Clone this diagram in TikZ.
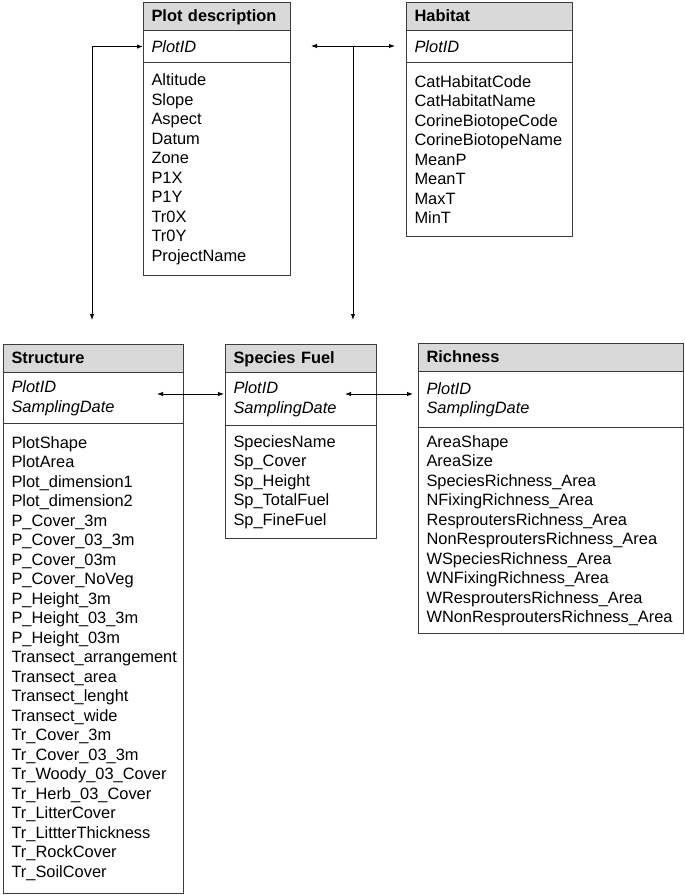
\documentclass[tikz,border=0pt]{standalone}
\usepackage{fontspec}
\setmainfont{Liberation Sans}
\usetikzlibrary{arrows.meta}
\definecolor{hdrgray}{HTML}{D9D9D9}
\definecolor{boxgray}{HTML}{3C3C3C}
\begin{document}
\begin{tikzpicture}[x=1pt,y=-1pt,
  box/.style={draw=boxgray, line width=1.1pt, rectangle, anchor=north west,
    inner xsep=8pt, inner ysep=0pt, align=left,
    font=\fontsize{16.4}{19.5}\selectfont},
  hdr/.style={box, fill=hdrgray, text height=12pt, text depth=3pt,
    font=\fontsize{16.4}{19.5}\selectfont\bfseries},
  keyrow/.style={box, font=\fontsize{16.4}{19.5}\selectfont\itshape},
  link/.style={line width=0.9pt, draw=black},
  arr/.style={-{Latex[length=6pt,width=4.5pt]}},
  darr/.style={{Latex[length=6pt,width=4.5pt]}-{Latex[length=6pt,width=4.5pt]}}
]
\useasboundingbox (0,0) rectangle (685,895);

% Plot description
\node[hdr, text width=131pt, minimum height=28pt] (pdh) at (143,2) {Plot description};
\node[keyrow, text width=131pt, minimum height=32pt] (pdk) at (143,30) {PlotID};
\node[box, text width=131pt, minimum height=213pt] (pdf) at (143,62)
  {Altitude\\Slope\\Aspect\\Datum\\Zone\\P1X\\P1Y\\Tr0X\\Tr0Y\\ProjectName};

% Habitat
\node[hdr, text width=150pt, minimum height=28pt] (habh) at (406,2) {Habitat};
\node[keyrow, text width=150pt, minimum height=32pt] (habk) at (406,30) {PlotID};
\node[box, text width=150pt, minimum height=174pt] (habf) at (406,62)
  {CatHabitatCode\\CatHabitatName\\CorineBiotopeCode\\CorineBiotopeName\\MeanP\\MeanT\\MaxT\\MinT};

% Structure
\node[hdr, text width=164pt, minimum height=28pt] (sth) at (3,344) {Structure};
\node[keyrow, text width=164pt, minimum height=51pt] (stk) at (3,372) {PlotID\\SamplingDate};
\node[box, text width=164pt, minimum height=470pt] (stf) at (3,423)
  {PlotShape\\PlotArea\\Plot\_dimension1\\Plot\_dimension2\\P\_Cover\_3m\\P\_Cover\_03\_3m\\P\_Cover\_03m\\P\_Cover\_NoVeg\\P\_Height\_3m\\P\_Height\_03\_3m\\P\_Height\_03m\\Transect\_arrangement\\Transect\_area\\Transect\_lenght\\Transect\_wide\\Tr\_Cover\_3m\\Tr\_Cover\_03\_3m\\Tr\_Woody\_03\_Cover\\Tr\_Herb\_03\_Cover\\Tr\_LitterCover\\Tr\_LittterThickness\\Tr\_RockCover\\Tr\_SoilCover};

% Species Fuel
\node[hdr, text width=135pt, minimum height=28pt] (sfh) at (225,344) {Species Fuel};
\node[keyrow, text width=135pt, minimum height=53pt] (sfk) at (225,372) {PlotID\\SamplingDate};
\node[box, text width=135pt, minimum height=113pt] (sff) at (225,425)
  {SpeciesName\\Sp\_Cover\\Sp\_Height\\Sp\_TotalFuel\\Sp\_FineFuel};

% Richness
\node[hdr, text width=249pt, minimum height=28pt] (rih) at (418,343) {Richness};
\node[keyrow, text width=249pt, minimum height=56pt] (rik) at (418,371) {PlotID\\SamplingDate\\[4pt]};
\node[box, text width=249pt, minimum height=206pt] (rif) at (418,427)
  {AreaShape\\AreaSize\\SpeciesRichness\_Area\\NFixingRichness\_Area\\ResproutersRichness\_Area\\NonResproutersRichness\_Area\\WSpeciesRichness\_Area\\WNFixingRichness\_Area\\WResproutersRichness\_Area\\WNonResproutersRichness\_Area};

% connector ends
\coordinate (stTop) at (92,320);
\coordinate (pdR) at (311,46);
\coordinate (habL) at (395,46);
\coordinate (jn) at (353,46);
\coordinate (sfTop) at (353,320);
\coordinate (stIn) at (157,394);
\coordinate (sfL) at (224,394);
\coordinate (sfIn) at (345,394);
\coordinate (riL) at (413,394);

% connectors
\draw[link, darr] (stTop) |- (pdk.west);
\draw[link, darr] (pdR) -- (habL);
\draw[link, arr] (jn) -- (sfTop);
\draw[link, darr] (stIn) -- (sfL);
\draw[link, darr] (sfIn) -- (riL);
\end{tikzpicture}
\end{document}
